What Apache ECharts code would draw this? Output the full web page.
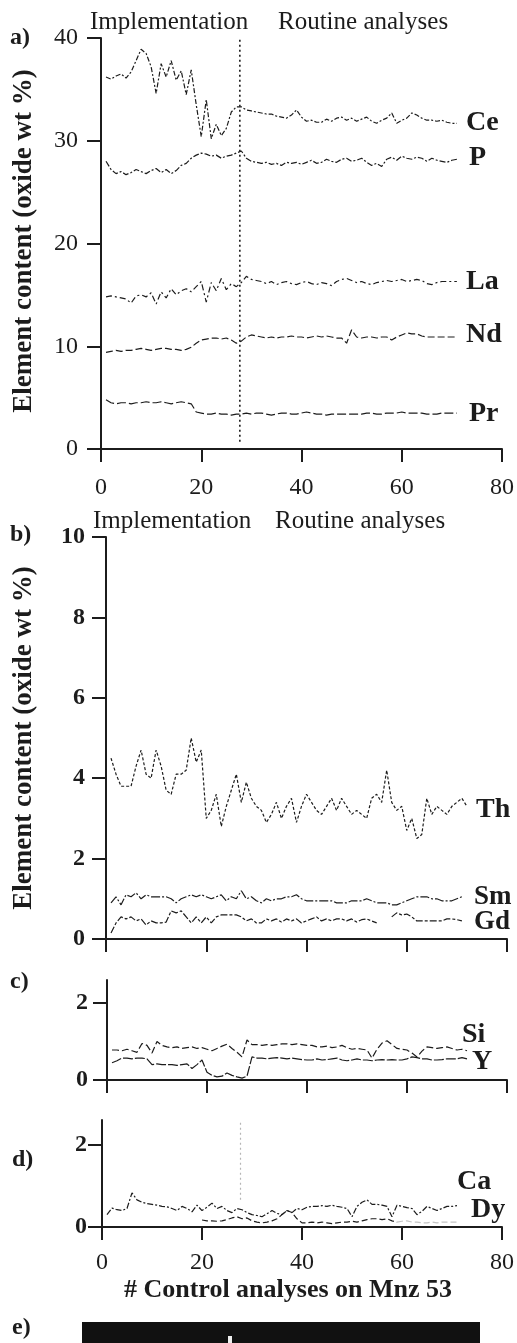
<!DOCTYPE html>
<html>
<head>
<meta charset="utf-8">
<script src="https://cdn.jsdelivr.net/npm/echarts@6.0.0/dist/echarts.min.js"></script>
<style>
html,body{margin:0;padding:0;background:#fff;}
#chart{width:517px;height:1343px;}
</style>
</head>
<body>
<div id="chart"></div>
<script>
// ---------- data (x = analysis number, starting at 1) ----------
const xTicks = [0, 20, 40, 60, 80];
const boundaryX = 27.7;
const dyFadeFrom = 59; // Dy trace printed in light grey from this analysis on

const Ce = [36.2,36.0,36.3,36.5,36.1,36.7,37.8,38.9,38.5,37.2,34.6,37.5,36.2,37.8,35.9,36.8,34.5,36.9,33.5,30.4,34.0,30.2,31.6,30.5,31.2,32.8,33.3,33.3,33.0,32.9,32.8,32.7,32.6,32.6,32.4,32.3,32.2,32.5,33.0,32.3,31.9,32.0,31.8,31.8,32.1,31.9,32.2,32.3,32.0,32.2,31.9,32.1,32.3,31.9,31.7,32.0,32.2,32.7,31.7,32.0,32.2,32.7,32.5,32.2,32.0,32.0,31.9,32.0,31.8,31.7,31.7];
const P  = [28.0,27.2,26.8,27.0,26.7,26.9,27.2,27.0,26.8,27.1,27.3,26.9,27.2,26.8,27.1,27.6,27.8,28.3,28.6,28.8,28.7,28.5,28.6,28.3,28.5,28.6,28.8,29.0,28.3,28.0,27.9,27.8,27.9,27.7,27.8,27.6,27.9,27.8,27.9,27.7,27.9,28.1,27.8,27.9,28.2,28.0,27.9,28.2,28.3,28.0,28.1,28.3,27.9,27.6,27.8,27.5,28.2,28.4,28.1,28.5,28.3,28.2,28.4,28.3,28.0,28.3,28.1,28.0,27.9,28.1,28.2];
const La = [14.8,14.9,14.8,14.7,14.6,14.2,14.9,15.0,14.8,15.2,14.1,15.3,14.7,15.6,15.0,15.4,15.6,15.3,15.8,16.3,14.3,16.2,15.4,16.6,15.5,16.1,15.8,16.2,16.8,16.5,16.4,16.3,16.1,16.3,16.0,16.2,16.3,16.1,16.0,16.2,16.3,16.1,16.0,16.2,16.1,15.9,16.3,16.5,16.6,16.4,16.2,16.3,16.1,16.0,16.2,16.3,16.4,16.3,16.4,16.5,16.3,16.4,16.5,16.4,16.1,16.0,16.2,16.3,16.3,16.3,16.3];
const Nd = [9.4,9.5,9.6,9.5,9.6,9.6,9.7,9.8,9.7,9.6,9.7,9.8,9.8,9.7,9.7,9.6,9.7,9.9,10.3,10.6,10.7,10.8,10.8,10.7,10.8,10.6,10.3,10.5,10.9,11.1,11.0,10.9,10.8,10.9,10.8,10.9,10.9,11.0,10.9,10.9,10.8,10.9,11.0,10.9,11.0,10.9,10.8,10.8,10.3,11.6,10.9,10.8,10.9,10.9,10.8,10.9,10.9,10.6,10.9,11.1,11.3,11.2,11.2,11.0,10.9,10.9,10.9,10.9,10.9,10.9,10.9];
const Pr = [4.8,4.5,4.4,4.5,4.5,4.4,4.5,4.5,4.6,4.5,4.5,4.6,4.5,4.4,4.5,4.6,4.5,4.4,3.6,3.5,3.4,3.4,3.5,3.4,3.4,3.3,3.4,3.4,3.5,3.4,3.5,3.5,3.4,3.3,3.4,3.5,3.5,3.4,3.4,3.5,3.6,3.5,3.4,3.4,3.3,3.4,3.4,3.4,3.4,3.4,3.4,3.4,3.5,3.5,3.4,3.4,3.5,3.5,3.5,3.6,3.5,3.5,3.5,3.5,3.4,3.4,3.4,3.5,3.5,3.5,3.5];

const Th = [4.5,4.1,3.8,3.8,3.8,4.3,4.7,4.1,4.0,4.7,4.3,3.7,3.6,4.1,4.1,4.2,5.0,4.4,4.7,3.0,3.2,3.6,2.8,3.3,3.7,4.1,3.4,3.9,3.5,3.3,3.2,2.9,3.1,3.4,3.0,3.3,3.5,2.9,3.3,3.6,3.4,3.2,3.1,3.3,3.5,3.2,3.5,3.3,3.1,3.2,3.1,3.0,3.5,3.6,3.4,4.2,3.4,3.2,3.3,2.7,3.0,2.5,2.6,3.5,3.1,3.3,3.2,3.1,3.3,3.4,3.5,3.3];
const Sm = [0.9,1.05,0.85,1.1,1.05,1.15,1.0,1.1,1.05,1.05,1.05,1.05,1.0,0.9,1.0,1.05,1.1,1.05,1.1,1.05,1.0,1.05,1.1,0.95,1.05,1.0,1.2,1.0,1.05,0.95,0.9,1.0,0.95,1.0,1.0,1.05,1.05,1.1,1.0,0.95,0.95,0.95,0.95,0.95,0.95,0.9,0.9,0.9,0.95,0.95,0.95,1.0,0.95,0.9,0.9,0.9,0.85,0.85,0.9,0.95,1.0,1.05,1.05,1.05,1.0,1.0,0.95,0.95,0.95,1.0,1.05];
const Gd = [0.15,0.4,0.55,0.5,0.55,0.45,0.5,0.35,0.45,0.4,0.4,0.42,0.7,0.65,0.7,0.55,0.4,0.55,0.4,0.55,0.4,0.55,0.6,0.6,0.6,0.6,0.55,0.45,0.5,0.4,0.4,0.5,0.45,0.5,0.42,0.5,0.45,0.5,0.4,0.45,0.5,0.55,0.45,0.5,0.45,0.5,0.5,0.45,0.5,0.42,0.48,0.5,0.45,0.4,null,null,0.55,0.65,0.6,0.62,0.55,0.45,0.45,0.45,0.45,0.45,0.45,0.5,0.5,0.48,0.45];

const Si = [0.78,0.78,0.76,0.8,0.76,0.72,0.95,0.9,0.7,1.0,0.9,0.86,0.84,0.86,0.82,0.84,0.86,0.82,0.84,0.8,0.76,0.82,0.88,0.93,0.82,0.72,0.6,1.04,0.92,0.92,0.9,0.92,0.9,0.92,0.94,0.94,0.92,0.94,0.92,0.9,0.9,0.86,0.86,0.88,0.84,0.86,0.9,0.84,0.8,0.82,0.8,0.78,0.57,0.8,0.96,1.02,0.92,0.82,0.8,0.78,0.7,0.6,0.75,0.86,0.84,0.82,0.84,0.86,0.82,0.78,0.8,0.76];
const Yv = [0.45,0.5,0.57,0.57,0.55,0.57,0.57,0.55,0.4,0.42,0.4,0.4,0.4,0.38,0.4,0.42,0.3,0.4,0.52,0.2,0.12,0.08,0.1,0.18,0.12,0.08,0.05,0.1,0.6,0.57,0.57,0.55,0.57,0.58,0.57,0.55,0.57,0.55,0.53,0.52,0.52,0.55,0.52,0.53,0.55,0.57,0.52,0.5,0.52,0.55,0.52,0.52,0.5,0.52,0.53,0.52,0.53,0.52,0.52,0.55,0.6,0.58,0.55,0.55,0.52,0.52,0.53,0.55,0.55,0.55,0.58,0.55];

const Ca = [0.3,0.46,0.42,0.4,0.45,0.83,0.66,0.6,0.57,0.55,0.53,0.5,0.49,0.45,0.4,0.5,0.45,0.37,0.53,0.4,0.48,0.58,0.45,0.5,0.4,0.35,0.45,0.42,0.35,0.3,0.28,0.25,0.32,0.4,0.33,0.3,0.4,0.35,0.45,0.42,0.48,0.5,0.5,0.52,0.5,0.53,0.5,0.48,0.45,0.25,0.5,0.6,0.66,0.55,0.55,0.53,0.5,0.25,0.53,0.5,0.47,0.45,0.3,0.38,0.5,0.45,0.4,0.45,0.5,0.5,0.52];
const Dy = [null,null,null,null,null,null,null,null,null,null,null,null,null,null,null,null,null,null,null,0.17,0.15,0.15,0.14,0.15,0.18,0.22,0.25,0.2,0.22,0.15,0.12,0.1,0.12,0.15,0.2,0.3,0.4,0.35,0.2,0.1,0.1,0.12,0.1,0.12,0.1,0.08,0.1,0.12,0.12,0.14,0.12,0.15,0.18,0.2,0.2,0.18,0.2,0.15,0.12,0.14,0.15,0.12,0.12,0.1,0.1,0.12,0.1,0.12,0.12,0.12,0.12];

// ---------- helpers ----------
const pairs = arr => arr.map((v, i) => [i + 1, v]);
const INK = '#1c1c1c';
const SERIF = '"Liberation Serif", "DejaVu Serif", serif';

function line(name, pts, gi, dash, extra) {
  return Object.assign({
    name, type: 'line', xAxisIndex: gi, yAxisIndex: gi,
    data: pts, symbol: 'none', connectNulls: false, silent: true,
    lineStyle: { color: INK, width: 1.2, type: dash },
    animation: false
  }, extra || {});
}

function xAx(gi, showLabels, margin) {
  return {
    type: 'value', gridIndex: gi, min: 0, max: 80, interval: 20,
    axisLine: { show: true, onZero: false, lineStyle: { color: INK, width: 2 } },
    axisTick: { show: true, inside: false, length: 13, lineStyle: { color: INK, width: 2 } },
    axisLabel: { show: showLabels, margin: margin || 8, color: INK, fontFamily: SERIF, fontSize: 24 },
    splitLine: { show: false }
  };
}

function yAx(gi, min, max, interval, margin, bold, custom) {
  const ax = {
    type: 'value', gridIndex: gi, min, max,
    axisLine: { show: true, lineStyle: { color: INK, width: 2 } },
    axisTick: { show: true, inside: false, length: 14, lineStyle: { color: INK, width: 2 } },
    axisLabel: { show: true, margin, color: INK, fontFamily: SERIF, fontSize: 24,
                 fontWeight: bold ? 'bold' : 'normal' },
    splitLine: { show: false }
  };
  if (interval) ax.interval = interval;
  if (custom) {
    ax.axisTick.customValues = custom;
    ax.axisLabel.customValues = custom;
  }
  return ax;
}

function txt(text, x, y, size, bold, align, rot) {
  const el = {
    type: 'text', x, y, silent: true,
    style: {
      text, fill: INK,
      font: (bold ? 'bold ' : '') + size + 'px ' + SERIF,
      align: align || 'left', verticalAlign: 'middle'
    }
  };
  if (rot) el.rotation = rot;
  return el;
}

const dyPts = pairs(Dy);
const dyDark = dyPts.filter(p => p[0] <= dyFadeFrom);
const dyLight = dyPts.filter(p => p[0] >= dyFadeFrom);

const chart = echarts.init(document.getElementById('chart'), null, { renderer: 'canvas' });

const option = {
  backgroundColor: '#ffffff',
  animation: false,
  grid: [
    { left: 101, right: 14, top: 38, height: 411 },
    { left: 106, right: 10, top: 537, height: 402 },
    { left: 107, right: 10, top: 980, height: 100 },
    { left: 102, right: 14, top: 1120, height: 107 }
  ],
  xAxis: [
    xAx(0, true, 27),
    xAx(1, false),
    xAx(2, false),
    xAx(3, true, 24)
  ],
  yAxis: [
    yAx(0, 0, 40, 10, 23, false),
    yAx(1, 0, 10, 2, 21, true),
    yAx(2, 0, 2.6, null, 19, true, [0, 2]),
    yAx(3, 0, 2.6, null, 15, true, [0, 2])
  ],
  series: [
    line('Ce', pairs(Ce), 0, [5, 2, 2, 2]),
    line('P', pairs(P), 0, [6, 2, 2, 2]),
    line('La', pairs(La), 0, [6, 3, 2, 3]),
    line('Nd', pairs(Nd), 0, [7, 3]),
    line('Pr', pairs(Pr), 0, [9, 3]),
    line('boundaryA', [[boundaryX, 0.7], [boundaryX, 40]], 0, [2, 3],
      { lineStyle: { color: INK, width: 1.6, type: [2, 3] } }),
    line('Th', pairs(Th), 1, [3, 2]),
    line('Sm', pairs(Sm), 1, [9, 2, 2, 2]),
    line('Gd', pairs(Gd), 1, [7, 2, 3, 2]),
    line('Si', pairs(Si), 2, [7, 3]),
    line('Y', pairs(Yv), 2, [10, 2]),
    line('Ca', pairs(Ca), 3, [6, 2, 2, 2]),
    line('Dy', dyDark, 3, [6, 3]),
    line('Dy faint', dyLight, 3, [6, 3], { lineStyle: { color: '#c4c4c4', width: 1.2, type: [6, 3] } }),
    line('boundaryD', [[boundaryX, 0.66], [boundaryX, 2.6]], 3, [2, 3],
      { lineStyle: { color: '#b5b5b5', width: 1.2, type: [2, 3] } })
  ],
  graphic: [
    // panel letters
    txt('a)', 10, 38, 24, true),
    txt('b)', 10, 535, 24, true),
    txt('c)', 10, 982, 24, true),
    txt('d)', 12, 1160, 24, true),
    txt('e)', 12, 1328, 24, true),
    // headers
    txt('Implementation', 90, 22, 25, false),
    txt('Routine analyses', 278, 22, 25, false),
    txt('Implementation', 93, 521, 25, false),
    txt('Routine analyses', 275, 521, 25, false),
    // axis titles
    txt('Element content (oxide wt %)', 24, 241, 27, true, 'center', Math.PI / 2),
    txt('Element content (oxide wt %)', 24, 738, 27, true, 'center', Math.PI / 2),
    txt('# Control analyses on Mnz 53', 288, 1290, 26, true, 'center'),
    // series labels
    txt('Ce', 466, 123, 28, true),
    txt('P', 469, 158, 28, true),
    txt('La', 466, 282, 28, true),
    txt('Nd', 466, 335, 28, true),
    txt('Pr', 469, 414, 28, true),
    txt('Th', 476, 810, 28, true),
    txt('Sm', 474, 897, 27, true),
    txt('Gd', 474, 922, 27, true),
    txt('Si', 462, 1035, 28, true),
    txt('Y', 472, 1062, 28, true),
    txt('Ca', 457, 1182, 28, true),
    txt('Dy', 471, 1210, 28, true),
    // bottom cut-off image (panel e)
    { type: 'rect', silent: true, shape: { x: 82, y: 1322, width: 398, height: 21 }, style: { fill: '#111' } },
    { type: 'rect', silent: true, shape: { x: 228, y: 1336, width: 4, height: 7 }, style: { fill: '#eee' } }
  ]
};

chart.setOption(option);
</script>
</body>
</html>
